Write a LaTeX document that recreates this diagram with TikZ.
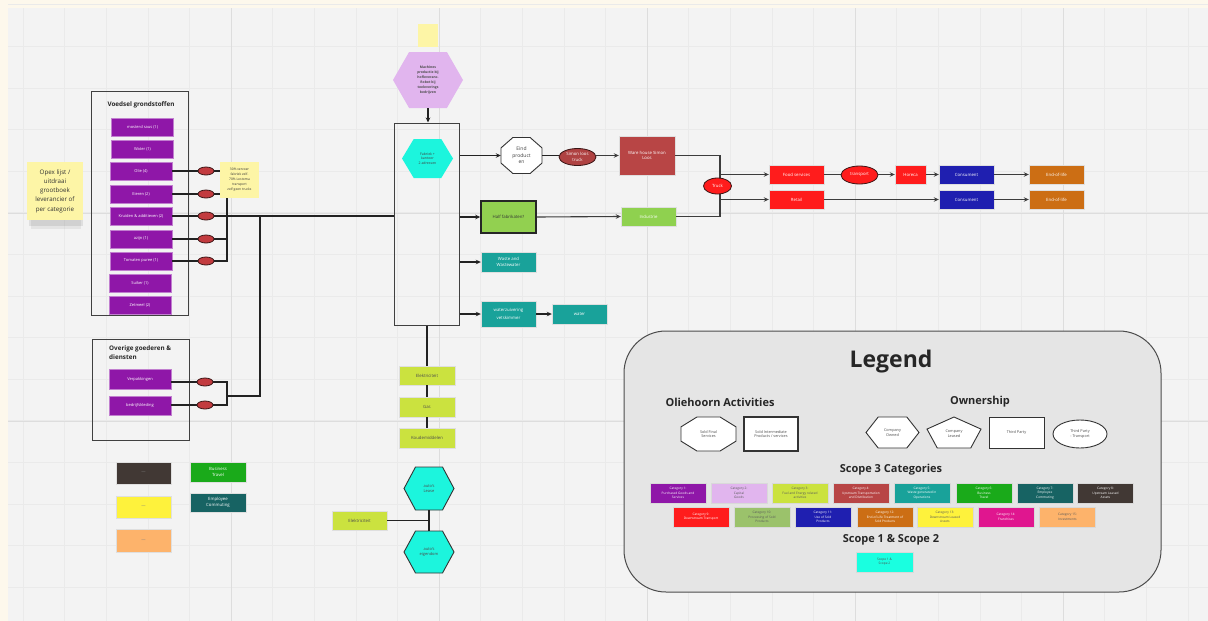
\documentclass[tikz,border=0pt]{standalone}
\usepackage{fontspec}
\setmainfont{Open Sans}
\usetikzlibrary{shapes.geometric,arrows.meta,calc}
\definecolor{cream}{HTML}{FDF8EC}
\definecolor{bggray}{HTML}{F3F3F3}
\definecolor{gridmin}{HTML}{EAEAEA}
\definecolor{gridmaj}{HTML}{DDDDDD}
\definecolor{purp}{HTML}{8F17A8}
\definecolor{ovred}{HTML}{C23B3F}
\definecolor{ovdark}{HTML}{3A1515}
\definecolor{linec}{HTML}{222222}
\definecolor{glinec}{HTML}{3C3C3C}
\definecolor{stickyc}{HTML}{FDF5A6}
\definecolor{lavender}{HTML}{E1B5EE}
\definecolor{cyanc}{HTML}{1CF5DD}
\definecolor{whred}{HTML}{B84545}
\definecolor{brightred}{HTML}{FF1C1C}
\definecolor{hfgreen}{HTML}{92D050}
\definecolor{indgreen}{HTML}{8FD14F}
\definecolor{teal}{HTML}{19A29A}
\definecolor{dteal}{HTML}{176363}
\definecolor{ygreen}{HTML}{CBE23F}
\definecolor{blue}{HTML}{1F1FB0}
\definecolor{orange}{HTML}{CC6E14}
\definecolor{bgreen}{HTML}{1AAA1A}
\definecolor{brown}{HTML}{413834}
\definecolor{yellowc}{HTML}{FEF23C}
\definecolor{peach}{HTML}{FDB36B}
\definecolor{olive}{HTML}{9BC26B}
\definecolor{magenta}{HTML}{E0168F}
\definecolor{legbg}{HTML}{E5E5E5}
\definecolor{scopecyan}{HTML}{1AFFE0}
\newcommand\fsz[2]{\fontsize{#1}{#2}\selectfont}
% hexagon path: cx cy w h style
\newcommand\hexpath[5]{\path[#5] (#1-#3/2,#2) -- (#1-#3*0.27,#2-#4/2) -- (#1+#3*0.27,#2-#4/2) -- (#1+#3/2,#2) -- (#1+#3*0.27,#2+#4/2) -- (#1-#3*0.27,#2+#4/2) -- cycle;}
% octagon path
\newcommand\octpath[5]{\path[#5] (#1-#3/2,#2-#4*0.21) -- (#1-#3*0.21,#2-#4/2) -- (#1+#3*0.21,#2-#4/2) -- (#1+#3/2,#2-#4*0.21) -- (#1+#3/2,#2+#4*0.21) -- (#1+#3*0.21,#2+#4/2) -- (#1-#3*0.21,#2+#4/2) -- (#1-#3/2,#2+#4*0.21) -- cycle;}
% pentagon path
\newcommand\pentpath[5]{\path[#5] (#1,#2-#4/2) -- (#1+#3/2,#2-#4*0.11) -- (#1+#3*0.31,#2+#4/2) -- (#1-#3*0.31,#2+#4/2) -- (#1-#3/2,#2-#4*0.11) -- cycle;}
\tikzset{
  bx/.style={rectangle, inner sep=0pt, align=center, font=\fsz{4.3}{5.6}, text=white},
  pbox/.style={bx, fill=purp, draw=purp!55!white, line width=0.4pt, minimum width=62pt, minimum height=18pt, font=\fsz{4}{5}},
  ov/.style={ellipse, inner sep=0pt, fill=ovred, draw=ovdark, line width=0.8pt, minimum width=16pt, minimum height=8pt},
  conn/.style={draw=linec, line width=1.3pt},
  arr/.style={conn, -{Stealth[length=5pt,width=4.5pt]}},
  gconn/.style={draw=glinec, line width=1.1pt},
  garr/.style={gconn, -{Stealth[length=5pt,width=4.5pt]}},
  outl/.style={draw=black!75, line width=1pt},
  sticky/.style={bx, fill=stickyc, text=black!80},
  cbox/.style={bx, minimum width=55pt, minimum height=19pt, draw=white!75!gray, line width=0.4pt},
  cat/.style={bx, minimum width=56pt, minimum height=20pt, font=\fsz{3.2}{4.4}, draw=white!70!gray, line width=0.5pt},
  shp/.style={draw=black!80, line width=0.9pt, fill=white},
  lbl/.style={inner sep=0pt, align=center, font=\fsz{3.8}{4.8}, text=black!70},
  ttl/.style={inner sep=0pt, font=\bfseries\fsz{11}{13}, text=black!85},
}
\begin{document}
\begin{tikzpicture}[x=1pt,y=-1pt]
\useasboundingbox (0,0) rectangle (1208,621);
\fill[cream] (0,0) rectangle (1208,621);
\fill[bggray] (8,8) rectangle (1208,621);
% grid
\foreach \i in {0,...,28} {\draw[gridmin, line width=0.5pt] ({23+41.6*\i},8) -- ({23+41.6*\i},621);}
\foreach \i in {0,...,14} {\draw[gridmin, line width=0.5pt] (8,{4.6+41.6*\i}) -- (1208,{4.6+41.6*\i});}
\foreach \i in {1,...,5} {\draw[gridmaj, line width=0.8pt] ({23+208*\i},8) -- ({23+208*\i},621);}
\foreach \i in {1,2} {\draw[gridmaj, line width=0.8pt] (8,{5+208*\i}) -- (1208,{5+208*\i});}

% ---------- Opex sticky
\fill[black, opacity=0.08] (29,219) rectangle (83,226);
\fill[black, opacity=0.06] (31,220) rectangle (81,229);
\node[sticky, minimum width=56pt, minimum height=58pt, font=\fsz{6.2}{9.2}] (opex) at (55,191) {Opex lijst /\\uitdraai\\grootboek\\leverancier of\\per categorie};

% ---------- Voedsel grondstoffen
\node[outl, rectangle, minimum width=97pt, minimum height=224pt, inner sep=0pt] (voedsel) at (139.5,203) {};
\node[inner sep=0pt, font=\bfseries\fsz{6.3}{8}, text=black!85] (vtitle) at (141,105) {Voedsel grondstoffen};
\node[pbox] (mos) at (142.5,127) {mosterd saus (1)};
\node[pbox] (wat) at (142.5,149.5) {Water (1)};
\node[pbox] (oli) at (141,171) {Olie (4)};
\node[pbox] (eie) at (141,194) {Eieren (2)};
\node[pbox] (kru) at (141,216) {Kruiden \& additieven (2)};
\node[pbox] (azi) at (141,239) {azijn (1)};
\node[pbox] (tom) at (141,261) {Tomaten puree (1)};
\node[pbox] (sui) at (140,283) {Suiker (1)};
\node[pbox] (zet) at (140,305.5) {Zetmeel (2)};

% note 30%
\node[sticky, minimum width=39pt, minimum height=36pt, font=\fsz{3.3}{5}] (note) at (239.5,180) {30\% vervoer\\fabriek zelf.\\70\% Lostoma\\transport\\zelf geen trucks};

% ---------- Fabriek
\node[outl, rectangle, minimum width=65pt, minimum height=202pt, inner sep=0pt] (fab) at (427,224) {};
\hexpath{427.5}{158.5}{51}{39}{fill=cyanc}
\node[lbl, minimum width=51pt, minimum height=39pt, font=\fsz{3.5}{4.8}, text=black!75] (fabhex) at (427.5,158.5) {Fabriek +\\kantoor\\2 adressen};

% top
\node[rectangle, fill=stickyc, minimum width=20pt, minimum height=23pt, inner sep=0pt] (topnote) at (428,35.5) {};
\hexpath{428}{80}{70}{56}{fill=lavender}
\node[lbl, minimum width=70pt, minimum height=56pt, font=\bfseries\fsz{3.4}{5}, text=black!70] (tophex) at (428,80) {Machines\\productie bij\\hofleveranc.\\Robot bij\\toeleverings\\bedrijven};
\draw[arr] (tophex.south) -- (fab.north -| tophex.south);

% ovals and connectors, food
\node[ov] (o1) at (206,171) {};
\node[ov] (o2) at (206,194) {};
\node[ov] (o3) at (206,216) {};
\node[ov] (o4) at (206,239) {};
\node[ov] (o5) at (206,261) {};
\coordinate (va) at (227,198);
\coordinate (vb) at (227,261);
\coordinate (vc) at (227,239);
\draw[conn] (oli.east) -- (o1.west);
\draw[conn] (o1.east) -- (note.west |- o1.east);
\draw[conn] (eie.east) -- (o2.west);
\draw[conn] (o2.east) -- (note.west |- o2.east);
\draw[conn] (kru.east) -- (o3.west);
\draw[conn] (o3.east) -- (fab.west |- o3.east);
\draw[conn] (azi.east) -- (o4.west);
\draw[conn] (o4.east) -- (vc);
\draw[conn] (tom.east) -- (o5.west);
\draw[conn] (o5.east) -- (vb) -- (va);

% ---------- Overige goederen
\node[outl, rectangle, minimum width=97pt, minimum height=101pt, inner sep=0pt] (overige) at (140.5,389.5) {};
\node[anchor=north west, inner sep=0pt, align=left, font=\bfseries\fsz{6.3}{9}, text=black!85] (otitle) at (109,346) {Overige goederen \&\\diensten};
\node[pbox, minimum height=20pt] (verp) at (140,379) {Verpakkingen};
\node[pbox, minimum height=19pt] (bedr) at (140,405.5) {bedrijfskleding};
\node[ov] (o6) at (205,382) {};
\node[ov] (o7) at (205,405) {};
\coordinate (wa) at (227,382);
\coordinate (wb) at (227,405);
\coordinate (wm) at (227,396);
\coordinate (wr) at (260,396);
\coordinate (wt) at (260,216);
\draw[conn] (verp.east |- o6) -- (o6.west);
\draw[conn] (bedr.east |- o7) -- (o7.west);
\draw[conn] (o6.east) -- (wa) -- (wb) -- (o7.east);
\draw[conn] (wm) -- (wr) -- (wt);

% small legend boxes bottom left
\node[cbox, fill=brown, minimum width=55pt, minimum height=22pt, text=gray] (b1) at (143.5,473) {---};
\node[cbox, fill=yellowc, minimum width=55pt, minimum height=22pt, text=gray] (b2) at (143.5,507) {---};
\node[cbox, fill=peach, minimum width=55pt, minimum height=23pt, text=gray] (b3) at (143.5,540.5) {---};
\node[cbox, fill=bgreen, minimum width=56pt, minimum height=20pt] (btr) at (218,472) {Business\\Travel};
\node[cbox, fill=dteal, minimum width=56pt, minimum height=19pt] (ecom) at (218,502.5) {Employee\\Commuting};

% ---------- right of fabriek
\octpath{521.5}{155.5}{41}{36}{shp, draw=black!80}
\node[lbl, minimum width=41pt, minimum height=36pt, font=\fsz{5}{6.6}, text=black!75] (eind) at (521.5,155.5) {Eind\\product\\en};
\node[ov, fill=whred!95!black, minimum width=37pt, minimum height=17pt, font=\fsz{4.3}{5.4}, text=white, align=center] (simon) at (577.5,157) {Simon loos\\truck};
\node[cbox, fill=whred, minimum width=56pt, minimum height=39pt] (wh) at (647,155.5) {Ware house Simon\\Loos};
\node[cbox, fill=hfgreen, draw=black!85, line width=1.5pt, minimum width=55pt, minimum height=32pt, text=black!80] (hf) at (508.5,217) {Half fabrikaten?};
\node[cbox, fill=indgreen, minimum width=55pt, minimum height=19pt] (ind) at (648.5,216.5) {Industrie};
\node[cbox, fill=teal, minimum width=55pt, minimum height=20pt] (waste) at (508.5,262) {Waste and\\Wastewater};
\node[cbox, fill=teal, minimum width=55pt, minimum height=26pt, font=\fsz{4.3}{7.5}] (wz) at (508.5,314) {waterzuivering\\vetskimmer};
\node[cbox, fill=teal, minimum width=55pt, minimum height=20pt] (water) at (579.5,314) {water};

\draw[arr] (fab.east |- eind.west) -- (eind.west);
\draw[arr] (fab.east |- hf.west) -- (hf.west);
\draw[arr] (fab.east |- waste.west) -- (waste.west);
\draw[arr] (fab.east |- wz.west) -- (wz.west);
\draw[arr] (wz.east) -- (water.west);
\draw[conn] (eind.east) -- (simon.west |- eind.east);
\draw[garr] (simon.east |- wh.west) -- (wh.west);
\draw[garr] (hf.east) -- (ind.west);

\coordinate (tt) at (720,155.5);
\coordinate (tb) at (720,216.5);
\draw[gconn] (wh.east) -- (tt) -- (tb) -- (ind.east);
\node[ov, fill=brightred, minimum width=28pt, minimum height=16pt, font=\fsz{4.3}{5.4}, text=white] (truck) at (717.5,186) {Truck};

\node[cbox, fill=brightred, minimum width=55pt, minimum height=19pt] (food) at (796.5,174.5) {Food services};
\node[cbox, fill=brightred, minimum width=55pt, minimum height=19pt] (retail) at (796.5,199.5) {Retail};
\node[ov, fill=brightred, minimum width=37pt, minimum height=18pt, font=\fsz{4.3}{5.4}, text=white] (transp) at (859.5,175) {transport};
\node[cbox, fill=brightred, minimum width=31pt, minimum height=19pt] (horeca) at (910.5,174.5) {Horeca};
\node[cbox, fill=blue, minimum width=55pt, minimum height=19pt] (cons1) at (966.5,174.5) {Consument};
\node[cbox, fill=blue, minimum width=55pt, minimum height=19pt] (cons2) at (966.5,199.5) {Consument};
\node[cbox, fill=orange, minimum width=55pt, minimum height=19pt] (eol1) at (1056.5,174.5) {End-of-life};
\node[cbox, fill=orange, minimum width=55pt, minimum height=19pt] (eol2) at (1056.5,199.5) {End-of-life};
\draw[garr] (tt |- food.west) -- (food.west);
\draw[garr] (tt |- retail.west) -- (retail.west);
\draw[gconn] (food.east) -- (transp.west |- food.east);
\draw[garr] (transp.east |- horeca.west) -- (horeca.west);
\draw[garr] (horeca.east) -- (cons1.west);
\draw[garr] (cons1.east) -- (eol1.west);
\draw[garr] (retail.east) -- (cons2.west);
\draw[garr] (cons2.east) -- (eol2.west);

% ---------- below fabriek
\node[cbox, fill=ygreen, minimum width=56pt, minimum height=19pt, text=black!70] (elek) at (427,375.5) {Elektriciteit};
\node[cbox, fill=ygreen, minimum width=56pt, minimum height=20pt, text=black!70] (gas) at (427,407) {Gas};
\node[cbox, fill=ygreen, minimum width=56pt, minimum height=20pt, text=black!70] (koude) at (427,438) {Koudemiddelen};
\draw[conn] (fab.south) -- (elek.north -| fab.south);
\draw[conn] (elek.south) -- (gas.north);
\draw[conn] (gas.south) -- (koude.north);
\hexpath{429}{488.5}{50}{43}{fill=cyanc, draw=black!80, line width=0.9pt}
\node[lbl, minimum width=50pt, minimum height=43pt, font=\fsz{4}{5.4}] (lease) at (429,488.5) {auto's\\Lease};
\hexpath{429}{552}{50}{42}{fill=cyanc, draw=black!80, line width=0.9pt}
\node[lbl, minimum width=50pt, minimum height=42pt, font=\fsz{4}{5.4}] (eigen) at (429,552) {auto's\\eigendom};
\node[cbox, fill=ygreen, minimum width=55pt, minimum height=19pt, text=black!70] (elek2) at (359.5,520.5) {Elektriciteit};
\draw[conn] (lease.south) -- (eigen.north);
\draw[conn] (elek2.east) -- (lease.south |- elek2.east);

% ---------- Legend
\draw[draw=black!70, line width=1pt, fill=legbg, rounded corners=42pt] (624,331) rectangle (1161,592);
\node[inner sep=0pt, font=\bfseries\fsz{23}{27}, text=black!85] (legend) at (891,362) {Legend};
\node[ttl] (olact) at (720,402) {Oliehoorn Activities};
\node[ttl] (owner) at (980,402) {Ownership};
\octpath{708.5}{434}{55}{34}{shp}
\node[lbl, minimum width=55pt, minimum height=34pt] (sfs) at (708.5,434) {Sold Final\\Services};
\node[shp, rectangle, line width=1.2pt, minimum width=54pt, minimum height=34pt, inner sep=0pt, align=center, font=\fsz{3.8}{4.8}, text=black!70] (sip) at (771,434) {Sold Intermediate\\Products / services};
\hexpath{892.5}{432.5}{53}{31}{shp}
\node[lbl, minimum width=53pt, minimum height=31pt] (cown) at (892.5,432.5) {Company\\Owned};
\pentpath{954}{432.5}{54}{31}{shp}
\node[lbl, minimum width=54pt, minimum height=31pt] (cleas) at (954,434) {Company\\Leased};
\node[shp, rectangle, minimum width=55pt, minimum height=31pt, inner sep=0pt, align=center, font=\fsz{3.8}{4.8}, text=black!70] (tp) at (1016.5,432.5) {Third Party};
\node[shp, ellipse, minimum width=54pt, minimum height=28pt, inner sep=0pt, align=center, font=\fsz{3.8}{4.8}, text=black!70] (tpt) at (1080,434) {Third Party\\- Transport};

\node[ttl] (s3) at (891,470) {Scope 3 Categories};
\node[cat, fill=purp] (c1) at (678,493) {Category 1:\\Purchased Goods and\\Services};
\node[cat, fill=lavender, text=black!65] (c2) at (739,493) {Category 2:\\Capital\\Goods};
\node[cat, fill=ygreen, text=black!65] (c3) at (800,493) {Category 3:\\Fuel and Energy related\\activities};
\node[cat, fill=whred] (c4) at (861,493) {Category 4:\\Upstream Transportation\\and Distribution};
\node[cat, fill=teal] (c5) at (922,493) {Category 5:\\Waste generated in\\Operations};
\node[cat, fill=bgreen] (c6) at (984,493) {Category 6:\\Business\\Travel};
\node[cat, fill=dteal] (c7) at (1045,493) {Category 7:\\Employee\\Commuting};
\node[cat, fill=brown] (c8) at (1105.5,493) {Category 8:\\Upstream Leased\\Assets};
\node[cat, fill=brightred] (c9) at (701,517) {Category 9:\\Downstream Transport};
\node[cat, fill=olive, text=black!65] (c10) at (762,517) {Category 10:\\Processing of Sold\\Products};
\node[cat, fill=blue] (c11) at (823,517) {Category 11:\\Use of Sold\\Products};
\node[cat, fill=orange] (c12) at (885,517) {Category 12:\\End-of-Life Treatment of\\Sold Products};
\node[cat, fill=yellowc, text=black!65] (c13) at (945,517) {Category 13:\\Downstream Leased\\Assets};
\node[cat, fill=magenta] (c14) at (1006,517) {Category 14:\\Franchises};
\node[cat, fill=peach, text=black!65] (c15) at (1067.5,517) {Category 15:\\Investments};
\node[ttl] (s12) at (891,540) {Scope 1 \& Scope 2};
\node[cat, fill=scopecyan, text=black!70, minimum width=57pt] (sc12) at (884.5,562) {Scope 1 \&\\Scope 2};
\end{tikzpicture}
\end{document}
